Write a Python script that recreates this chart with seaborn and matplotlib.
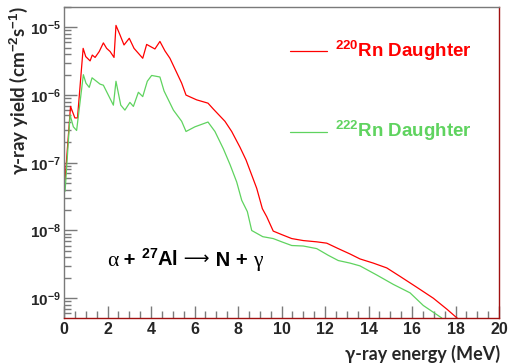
import math
import matplotlib
matplotlib.use("Agg")
import matplotlib.pyplot as plt
from matplotlib.ticker import LogLocator, FixedLocator, MultipleLocator, FuncFormatter, NullFormatter
from matplotlib.transforms import offset_copy
import pandas as pd
import seaborn as sns

# gamma-ray energy (MeV) and yield (cm^-2 s^-1) for each decay chain
energy_220 = [0.05, 0.3, 0.5, 0.62, 0.88, 1.0, 1.2, 1.3, 1.43, 1.62, 1.81, 1.96,
              2.12, 2.3, 2.39, 2.57, 2.76, 3.0, 3.22, 3.62, 3.8, 4.18, 4.41, 4.64,
              4.87, 5.41, 5.61, 6.1, 6.62, 6.87, 7.4, 7.71, 8.09, 8.37, 8.63, 8.86,
              9.12, 9.32, 9.62, 10.01, 10.47, 11.0, 11.62, 12.08, 12.61, 13.15,
              13.61, 14.22, 14.84, 15.45, 16.22, 16.98, 17.6, 18.1]
yield_220 = [5.6e-8, 6.8e-7, 4.6e-7, 4.6e-7, 4.9e-6, 3.7e-6, 3.2e-6, 3.9e-6, 3.6e-6,
             4.4e-6, 5.9e-6, 4.9e-6, 4.4e-6, 3.6e-6, 1.07e-5, 7.8e-6, 5.5e-6, 6.9e-6,
             4.9e-6, 3.5e-6, 5.6e-6, 4.8e-6, 6.2e-6, 4.5e-6, 3.5e-6, 1.5e-6, 1.0e-6,
             8.5e-7, 7.6e-7, 6.2e-7, 4.1e-7, 2.9e-7, 1.7e-7, 1.1e-7, 6.6e-8, 4.2e-8,
             2.1e-8, 1.6e-8, 9.8e-9, 8.7e-9, 7.6e-9, 7.1e-9, 6.8e-9, 6.5e-9, 5.4e-9,
             4.5e-9, 3.8e-9, 3.3e-9, 2.8e-9, 2.1e-9, 1.45e-9, 1.0e-9, 6.9e-10, 5.0e-10]

energy_222 = [0.05, 0.28, 0.43, 0.58, 0.89, 1.01, 1.16, 1.29, 1.66, 1.81, 2.27, 2.39,
              2.61, 2.8, 3.03, 3.19, 3.42, 3.62, 3.83, 4.03, 4.41, 4.6, 5.03, 5.41,
              5.61, 6.02, 6.62, 6.94, 7.33, 7.64, 7.94, 8.17, 8.43, 8.63, 9.14, 9.62,
              10.01, 10.47, 11.0, 11.62, 12.15, 12.61, 13.15, 13.61, 14.38, 15.14,
              15.91, 16.52, 17.37]
yield_222 = [3.8e-8, 5.1e-7, 3.4e-7, 3.0e-7, 2.0e-6, 1.5e-6, 1.3e-6, 1.8e-6, 1.45e-6,
             1.4e-6, 7.1e-7, 1.6e-6, 7.1e-7, 6.0e-7, 7.8e-7, 6.8e-7, 1.1e-6, 9.5e-7,
             1.6e-6, 1.95e-6, 1.85e-6, 1.15e-6, 6.0e-7, 4.1e-7, 2.9e-7, 3.4e-7, 4.0e-7,
             2.9e-7, 1.6e-7, 9.3e-8, 5.2e-8, 2.8e-8, 1.9e-8, 1.0e-8, 8.1e-9, 7.6e-9,
             6.8e-9, 6.0e-9, 5.9e-9, 5.4e-9, 4.3e-9, 3.6e-9, 3.3e-9, 3.0e-9, 2.2e-9,
             1.6e-9, 1.2e-9, 7.8e-10, 5.1e-10]

series_names = ["$^{220}$Rn Daughter", "$^{222}$Rn Daughter"]
x_ticks = [0, 2, 4, 6, 8, 10, 12, 14, 16, 18, 20]
y_decades = [1e-9, 1e-8, 1e-7, 1e-6, 1e-5]

RED = "#ff0000"
GREEN = "#5fd35f"
FRAME_RED = "#a01010"
GREY = "#7a7a7a"

df = pd.concat([
    pd.DataFrame({"energy": energy_220, "yield": yield_220, "source": series_names[0]}),
    pd.DataFrame({"energy": energy_222, "yield": yield_222, "source": series_names[1]}),
], ignore_index=True)

sns.set_theme(style="white")
plt.rcParams["font.family"] = ["Liberation Sans", "DejaVu Sans"]
plt.rcParams["font.weight"] = "bold"
plt.rcParams["mathtext.fontset"] = "custom"
plt.rcParams["mathtext.rm"] = "Liberation Sans:bold"
plt.rcParams["mathtext.bf"] = "Liberation Sans:bold"
plt.rcParams["mathtext.it"] = "Liberation Sans:bold"
plt.rcParams["mathtext.sf"] = "Liberation Sans:bold"

fig = plt.figure(figsize=(5.11, 3.64), dpi=100)
ax = fig.add_axes([64 / 511, 1 - 318 / 364, 435 / 511, 311 / 364])

sns.lineplot(data=df, x="energy", y="yield", hue="source", hue_order=series_names,
             palette=[RED, GREEN], linewidth=0.9, sort=False, estimator=None,
             legend=False, ax=ax)

ax.set_yscale("log")
ax.set_xlim(0, 20)
ax.set_ylim(5.1e-10, 2.0e-5)

ax.xaxis.set_major_locator(FixedLocator(x_ticks))
ax.xaxis.set_minor_locator(MultipleLocator(0.5))
ax.yaxis.set_major_locator(FixedLocator(y_decades))
ax.yaxis.set_minor_locator(LogLocator(base=10, subs=range(2, 10), numticks=20))
ax.yaxis.set_minor_formatter(NullFormatter())


def decade_label(v, pos):
    return r"$10^{%d}$" % int(round(math.log10(v)))


ax.yaxis.set_major_formatter(FuncFormatter(decade_label))

ax.tick_params(axis="both", which="both", direction="in", color=GREY,
               top=False, right=False, bottom=True, left=True)
ax.tick_params(axis="both", which="major", length=9, width=1)
ax.tick_params(axis="both", which="minor", length=5, width=1)
ax.tick_params(axis="x", which="major", labelsize=11.5, pad=3)
ax.tick_params(axis="y", which="major", labelsize=11, pad=2)
for lab in ax.get_xticklabels() + ax.get_yticklabels():
    lab.set_fontweight("bold")

ax.spines["top"].set_color(GREY)
ax.spines["left"].set_color(GREY)
ax.spines["right"].set_color(FRAME_RED)
ax.spines["bottom"].set_color(FRAME_RED)
for s in ax.spines.values():
    s.set_linewidth(1.0)

ax.set_xlabel("")
ax.set_ylabel("")

# axis titles
fig.text(500 / 511, 1 - 354 / 364, "γ-ray energy (MeV)", ha="right", va="center",
         fontsize=13, fontweight="bold", family=["Lato", "DejaVu Sans"])
fig.text(19 / 511, 1 - 91 / 364, "γ-ray yield (cm$^{-2}$s$^{-1}$)", ha="center",
         va="center", rotation=90, fontsize=13.5, fontweight="bold",
         family=["Lato", "DejaVu Sans"])

# series key
for name, color, ly, ty in [(series_names[0], RED, 0.8585, 0.840),
                            (series_names[1], GREEN, 0.598, 0.581)]:
    ax.plot([0.5195, 0.6046], [ly, ly], color=color, lw=0.9, transform=ax.transAxes)
    ax.text(0.623, ty, name, color=color, fontsize=13.5, fontweight="bold",
            ha="left", va="baseline", transform=ax.transAxes)

# reaction, written piece by piece so the Greek letters and arrow use a serif face
serif = ["Liberation Serif", "DejaVu Serif"]
sans = ["Liberation Sans", "DejaVu Sans"]
pieces = [("α", serif, "normal", 15.5, 0),
          (" + ", sans, "bold", 14.5, 0),
          ("$^{27}$Al", sans, "bold", 14.5, 0),
          (" ⟶", ["DejaVu Sans"], "normal", 13, 1.5),
          (" N + ", sans, "bold", 14.5, 0),
          ("γ", serif, "normal", 15.5, 0)]
fig.canvas.draw()
renderer = fig.canvas.get_renderer()
trans = ax.transAxes
for txt, fam, weight, size, lift in pieces:
    t = ax.text(0.0989, 0.167, txt, family=fam, fontweight=weight, fontsize=size,
                ha="left", va="baseline", color="black",
                transform=offset_copy(trans, fig=fig, x=0, y=lift, units="points"))
    bb = t.get_window_extent(renderer=renderer)
    trans = offset_copy(trans, fig=fig, x=bb.width * 72 / fig.dpi, y=0, units="points")

fig.savefig("out.png", dpi=100)
